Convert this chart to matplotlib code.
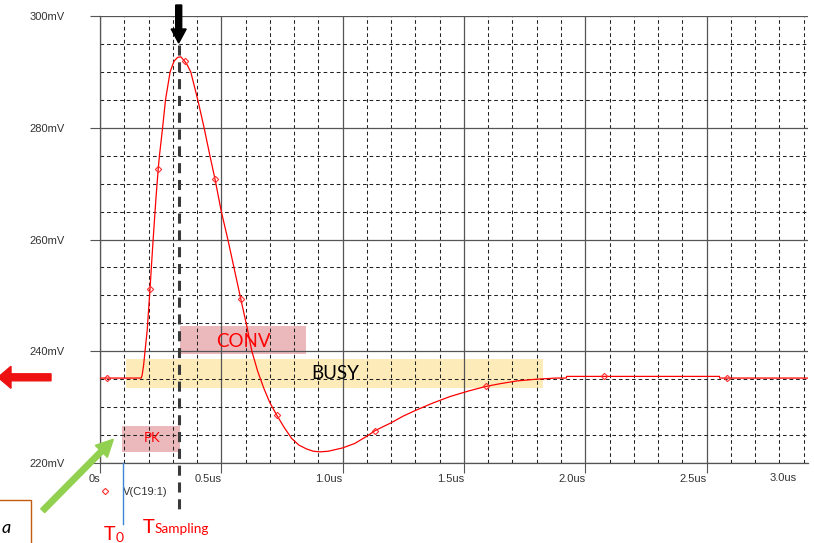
import matplotlib
matplotlib.use("Agg")
import matplotlib.pyplot as plt
from matplotlib.patches import Rectangle, FancyArrow
from matplotlib.lines import Line2D
from matplotlib.transforms import IdentityTransform, blended_transform_factory

# Transient response of V(C19:1): time in microseconds, voltage in mV
time_us = [0.00, 0.17, 0.174, 0.180, 0.186, 0.1946, 0.206, 0.219, 0.230, 0.240,
           0.245, 0.258, 0.270, 0.289, 0.305, 0.320, 0.333, 0.349, 0.360, 0.374,
           0.403, 0.429, 0.453, 0.474, 0.500, 0.527, 0.553, 0.580, 0.605, 0.626,
           0.650, 0.675, 0.700, 0.728, 0.760, 0.790, 0.820, 0.852, 0.880, 0.907,
           0.940, 0.970, 1.000, 1.050, 1.100, 1.134, 1.200, 1.250, 1.305, 1.370,
           1.443, 1.520, 1.590, 1.650, 1.720, 1.800, 1.880, 1.922, 1.923, 2.553,
           2.554, 2.920]
v_mv = [235.2, 235.2, 235.8, 237.6, 240.2, 243.8, 251.1, 260.0, 267.0, 272.7,
        275.0, 280.0, 285.0, 290.0, 291.9, 292.6, 292.7, 291.9, 291.2, 290.0,
        285.0, 280.0, 275.0, 270.8, 265.0, 260.0, 254.8, 249.4, 244.5, 240.0,
        236.4, 233.4, 230.8, 228.6, 226.3, 224.4, 223.2, 222.5, 222.1, 222.0,
        222.1, 222.4, 222.7, 223.5, 224.8, 225.8, 227.2, 228.4, 229.5, 230.7,
        231.9, 232.9, 233.7, 234.2, 234.7, 235.0, 235.2, 235.2, 235.5, 235.5,
        235.2, 235.2]

# Trace symbols
marker_t = [0.03, 0.206, 0.240, 0.349, 0.474, 0.580, 0.728, 1.134, 1.59, 2.077, 2.585]
marker_v = [235.2, 251.1, 272.7, 291.9, 270.8, 249.4, 228.6, 225.8, 233.7, 235.5, 235.2]

x_ticks = [0.0, 0.5, 1.0, 1.5, 2.0, 2.5]
x_labels = ["0s", "0.5us", "1.0us", "1.5us", "2.0us", "2.5us"]
x_last_label = "3.0us"
y_ticks = [220, 240, 260, 280, 300]
y_labels = ["220mV", "240mV", "260mV", "280mV", "300mV"]

# Timing windows (start, end in us; low, high in mV)
pk_win = (0.089, 0.330, 222.0, 226.6)
conv_win = (0.330, 0.849, 239.5, 244.5)
busy_win = (0.107, 1.825, 233.5, 238.6)
t_sampling = 0.327
t_zero = 0.094

W, H = 814, 543
fig = plt.figure(figsize=(W / 100, H / 100), dpi=100)
ax = fig.add_axes([100 / W, 1 - 463 / H, 708 / W, 447 / H])
ax.set_xlim(0, 2.918)
ax.set_ylim(220, 300)

grid_col = "#555555"
tick_font = dict(family="Liberation Sans", size=8, color="#333333")

ax.set_xticks(x_ticks)
ax.set_xticks([i / 10 for i in range(30) if i % 5], minor=True)
ax.set_yticks(y_ticks)
ax.set_yticks([v for v in range(220, 301, 5) if v % 20], minor=True)
ax.set_xticklabels(x_labels, ha="right", **tick_font)
ax.set_yticklabels(y_labels, **tick_font)
ax.tick_params(axis="x", which="major", length=7.2, width=0.8, color=grid_col, pad=1)
ax.tick_params(axis="y", which="major", length=7.2, width=0.8, color=grid_col, pad=18.5)
ax.tick_params(which="minor", length=0)

ax.grid(which="major", color=grid_col, lw=0.9, ls="-")
ax.grid(which="minor", color="#222222", lw=0.75, ls=(0, (3.5, 2.8)))
for s in ("top", "right"):
    ax.spines[s].set_visible(False)
for s in ("left", "bottom"):
    ax.spines[s].set_color(grid_col)
    ax.spines[s].set_linewidth(0.9)

ax.annotate(x_last_label, xy=(1.0, 0.0), xycoords="axes fraction",
            xytext=(-11, -15), textcoords="offset pixels",
            ha="right", va="center", **tick_font)

# Timing windows
pink = "#ebb9bc"
yellow = "#fdecb9"
for (t0, t1, v0, v1), col in ((busy_win, yellow), (conv_win, pink), (pk_win, pink)):
    ax.add_patch(Rectangle((t0, v0), t1 - t0, v1 - v0, facecolor=col,
                           edgecolor="none", zorder=0.5))

lab_font = "Lato"
ax.text((conv_win[0] + conv_win[1]) / 2, 241.8, "CONV", color="#ff0000",
        fontsize=13.5, family=lab_font, ha="center", va="center", zorder=4)
ax.text(0.969, 236.1, "BUSY", color="black", fontsize=13.5, family=lab_font,
        ha="center", va="center", zorder=4)
ax.text(0.213, 224.4, "PK", color="#ff0000", fontsize=9.5, family=lab_font,
        ha="center", va="center", zorder=4)

# Trace
ax.plot(time_us, v_mv, color="#ff0000", lw=0.9, zorder=3)
ax.plot(marker_t, marker_v, ls="none", marker="D", ms=3.2, mfc="none",
        mec="#ff3030", mew=0.8, zorder=3)

# Sampling instant and T0 marker lines
bt = blended_transform_factory(ax.transData, fig.transFigure)
fig.add_artist(Line2D([t_sampling, t_sampling], [1 - 45 / H, 1 - 515 / H],
                      transform=bt, color="#3a3a3a", lw=2.2,
                      dashes=(3.3, 2.2), zorder=5))
fig.add_artist(Line2D([t_zero, t_zero], [1 - 463 / H, 1 - 524 / H],
                      transform=bt, color="#3d85d6", lw=1.0, zorder=5))

px = IdentityTransform()
# Arrows
fig.add_artist(FancyArrow(178.7, H - 5, 0, -38, width=6, head_width=15,
                          head_length=14, length_includes_head=True,
                          color="black", transform=px, zorder=6))
fig.add_artist(FancyArrow(51, H - 377.3, -53, 0, width=7, head_width=22,
                          head_length=13, length_includes_head=True,
                          color="#ee1111", transform=px, zorder=6))
fig.add_artist(FancyArrow(42.7, H - 510.7, 70.6, 71.4, width=5.5, head_width=17,
                          head_length=17, length_includes_head=True,
                          color="#92d050", transform=px, zorder=6))

# Legend entry
fig.add_artist(Line2D([105], [H - 491], transform=px, ls="none", marker="D",
                      ms=3.2, mfc="none", mec="#ff3030", mew=0.8))
fig.text(123, H - 492, "V(C19:1)", transform=px, ha="left", va="center",
         **tick_font)

# Sampling labels
fig.text(103.5, H - 540, "T", transform=px, color="#ff0000", fontsize=14,
         family=lab_font, ha="left", va="baseline")
fig.text(115.5, H - 542, "0", transform=px, color="#ff0000", fontsize=10,
         family=lab_font, ha="left", va="baseline")
fig.text(142.5, H - 533, "T", transform=px, color="#ff0000", fontsize=14.5,
         family=lab_font, ha="left", va="baseline")
fig.text(155, H - 533, "Sampling", transform=px, color="#ff0000", fontsize=9.8,
         family=lab_font, ha="left", va="baseline")

# Label box at lower left
fig.add_artist(Rectangle((-2, -2), 33, H - 500 + 2, transform=px,
                         facecolor="none", edgecolor="#c55a11", lw=1.0))
fig.text(1.5, H - 533, "a", transform=px, color="black", fontsize=13,
         family=lab_font, style="italic", ha="left", va="baseline")

fig.savefig("out.png", dpi=100)
